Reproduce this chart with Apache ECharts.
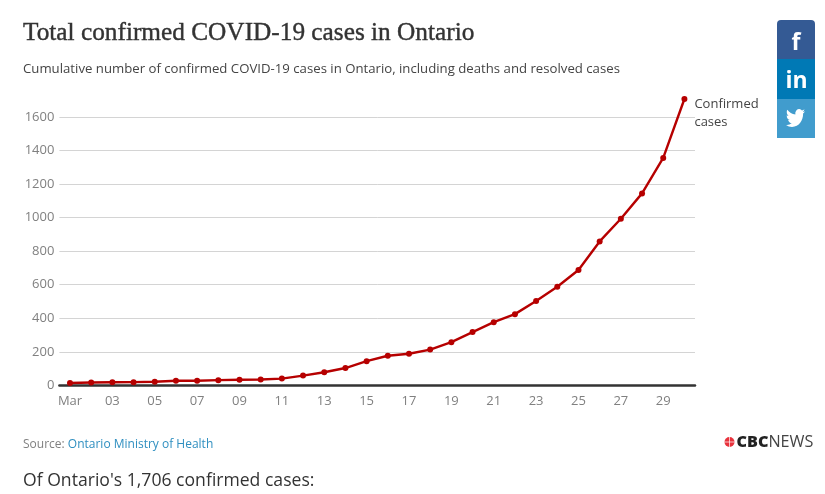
<!DOCTYPE html>
<html><head><meta charset="utf-8">
<style>html,body{margin:0;padding:0;background:#fff}#c{width:825px;height:494px}</style>
<script src="https://cdn.jsdelivr.net/npm/echarts@6/dist/echarts.min.js"></script>
</head><body><div id="c"></div>
<script>
const titleText = 'Total confirmed COVID-19 cases in Ontario';
const subtitleText = 'Cumulative number of confirmed COVID-19 cases in Ontario, including deaths and resolved cases';
const days = ['Mar','02','03','04','05','06','07','08','09','10','11','12','13','14','15','16','17','18','19','20','21','22','23','24','25','26','27','28','29','30'];
const confirmed = [15,18,19,20,22,28,28,32,34,36,41,59,79,104,145,177,189,214,258,318,377,425,503,588,688,858,993,1144,1355,1706];
const seriesName = 'Confirmed\ncases';
const chart = echarts.init(document.getElementById('c'),null,{renderer:'canvas'});
const twitter = 'M23.95 4.57a10 10 0 0 1-2.82.77 4.96 4.96 0 0 0 2.16-2.72c-.95.55-2 .96-3.12 1.18a4.92 4.92 0 0 0-8.38 4.48C7.69 8.1 4.07 6.13 1.64 3.16a4.82 4.82 0 0 0-.66 2.47c0 1.71.87 3.21 2.19 4.1a4.9 4.9 0 0 1-2.23-.62v.06a4.92 4.92 0 0 0 3.95 4.83 5 5 0 0 1-2.21.08 4.94 4.94 0 0 0 4.6 3.42A9.87 9.87 0 0 1 0 19.54a14 14 0 0 0 7.56 2.21c9.05 0 14-7.5 14-13.98 0-.21 0-.42-.02-.63a9.94 9.94 0 0 0 2.41-2.57z';
chart.setOption({
  animation:false,
  grid:{left:59.4,right:130,top:99,bottom:108.5,containLabel:false},
  xAxis:{type:'category',data:days,boundaryGap:true,
    axisLine:{onZero:true,lineStyle:{color:'#333',width:2.5}},axisTick:{show:false},
    axisLabel:{interval:1,color:'#808080',fontFamily:'Open Sans',fontSize:13,margin:9},splitLine:{show:false}},
  yAxis:{type:'value',min:0,max:1706,interval:200,
    axisLine:{show:false},axisTick:{show:false},
    axisLabel:{color:'#808080',fontFamily:'Open Sans',fontSize:13,margin:5,showMaxLabel:false,formatter:v=>String(v)},
    splitLine:{showMaxLine:false,lineStyle:{color:'#d4d4d4',width:1}}},
  series:[{type:'line',data:confirmed,name:seriesName,symbol:'circle',symbolSize:6,showSymbol:true,clip:false,
    lineStyle:{color:'#b60000',width:2.4},itemStyle:{color:'#b60000'},
    endLabel:{show:true,formatter:seriesName,color:'#444',fontFamily:'Open Sans',fontSize:13,lineHeight:18,align:'left',verticalAlign:'top',offset:[2,-4]}}],
  graphic:[
    {type:'text',x:23,y:21,style:{text:titleText,font:'400 25.3px "Liberation Serif"',fill:'#333',stroke:'#333',lineWidth:0.4}},
    {type:'text',x:23,y:63,style:{text:subtitleText,font:'13.2px "Open Sans"',fill:'#444'}},
    {type:'text',x:23,y:439,style:{rich:{a:{fill:'#808080',font:'12px "Open Sans"'},b:{fill:'#2f8fc0',font:'12px "Open Sans"'}},text:'{a|Source: }{b|Ontario Ministry of Health}'}},
    {type:'text',x:23,y:472,style:{text:"Of Ontario's 1,706 confirmed cases:",font:'17.6px "Open Sans"',fill:'#333'}},
    {type:'rect',shape:{x:777,y:20,width:38,height:40,r:[4,4,0,0]},style:{fill:'#345a94'}},
    {type:'rect',shape:{x:777,y:59,width:38,height:40},style:{fill:'#0079b5'}},
    {type:'rect',shape:{x:777,y:99,width:38,height:39},style:{fill:'#419ccd'}},
    {type:'text',x:791.5,y:32,style:{text:'f',font:'700 23px "Open Sans"',fill:'#fff'}},
    {type:'text',x:785.5,y:70,style:{text:'in',font:'700 23px "Open Sans"',fill:'#fff'}},
    {type:'circle',shape:{cx:729.5,cy:442,r:5},style:{fill:'#e8323c'}},
    {type:'line',shape:{x1:724.5,y1:442,x2:734.5,y2:442},style:{stroke:'#fff',lineWidth:0.7}},
    {type:'line',shape:{x1:729.5,y1:437,x2:729.5,y2:447},style:{stroke:'#fff',lineWidth:0.7}},
    {type:'text',x:736.5,y:434,style:{rich:{a:{fill:'#222',font:'800 16.2px "Open Sans"'},b:{fill:'#444',font:'400 16.2px "Open Sans"'}},text:'{a|CBC}{b|NEWS}'}}
  ]
});
const bird = echarts.graphic.makePath(twitter,{style:{fill:'#fff'},z:100},{x:786,y:109,width:19,height:18});
chart.getZr().add(bird);
</script></body></html>
